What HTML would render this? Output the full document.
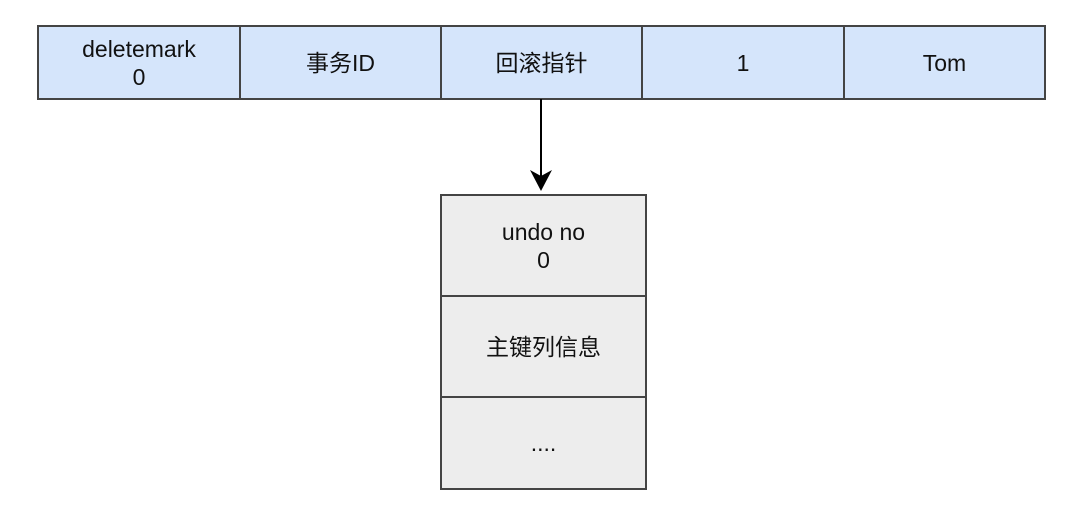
<!DOCTYPE html>
<html><head><meta charset="utf-8"><style>
body{margin:0;width:1082px;height:508px;background:#fff;position:relative;overflow:hidden;font-family:"Liberation Sans","Noto Sans CJK SC",sans-serif;font-size:23px;color:#111}
.c{position:absolute;box-sizing:border-box;border:2px solid #444;display:flex;align-items:center;justify-content:center;text-align:center;line-height:28px}
.b{background:#d5e5fb;top:25px;height:75px}
.g{background:#ededed;left:440px;width:207px}
</style></head><body>
<div class="c b" style="left:37px;width:204px">deletemark<br>0</div>
<div class="c b" style="left:239px;width:203px">事务ID</div>
<div class="c b" style="left:440px;width:203px">回滚指针</div>
<div class="c b" style="left:641px;width:204px">1</div>
<div class="c b" style="left:843px;width:203px">Tom</div>
<svg style="position:absolute;left:0;top:0" width="1082" height="508">
<line x1="541" y1="99" x2="541" y2="180" stroke="#000" stroke-width="2"/>
<path d="M530 170 L541 191 L552 170 L541 176 Z" fill="#000"/>
</svg>
<div class="c g" style="top:194px;height:103px">undo no<br>0</div>
<div class="c g" style="top:295px;height:103px">主键列信息</div>
<div class="c g" style="top:396px;height:94px">....</div>
</body></html>
